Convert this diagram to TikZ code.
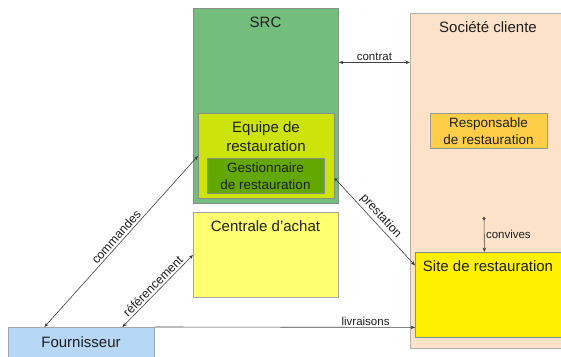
\documentclass[tikz,border=0pt]{standalone}
\usepackage{fontspec}
\setmainfont{Liberation Sans}
\usetikzlibrary{arrows.meta,calc}
\definecolor{srcgreen}{RGB}{115,190,125}
\definecolor{peach}{RGB}{253,226,202}
\definecolor{equipe}{RGB}{204,228,12}
\definecolor{gest}{RGB}{98,168,0}
\definecolor{centrale}{RGB}{255,255,112}
\definecolor{respo}{RGB}{255,206,72}
\definecolor{site}{RGB}{255,240,0}
\definecolor{fourn}{RGB}{182,215,245}
\definecolor{txt}{RGB}{30,30,30}
\tikzset{
  box/.style={draw=#1, line width=0.8pt, anchor=north west, inner sep=0pt},
  big/.style={font=\fontsize{15}{18.5}\selectfont, text=txt, inner sep=0pt, align=center},
  mid/.style={font=\fontsize{13.5}{16.5}\selectfont, text=txt, inner sep=0pt, align=center},
  small/.style={font=\fontsize{11.5}{13}\selectfont, text=txt, inner sep=1.5pt},
  slopelab/.style={font=\fontsize{12.3}{14}\selectfont, text=txt, inner sep=2pt, sloped, above},
  conn/.style={draw=black!75, line width=0.6pt},
  tip/.tip={Stealth[length=4.5pt,width=3.5pt]},
  dot/.tip={Circle[length=3pt]}
}
\begin{document}
\begin{tikzpicture}[x=1pt,y=-1pt]
\useasboundingbox (0,0) rectangle (561,356);
% containers
\node[box=black!45, fill=srcgreen, minimum width=145pt, minimum height=195pt] (src) at (193,8) {};
\node[box=black!30, fill=peach, minimum width=156pt, minimum height=335pt] (soc) at (410,13) {};
\node[big] (srct) at (265.5,22) {SRC};
\node[big] (soct) at (488,27) {Société cliente};
% inner boxes
\node[box=black!45, fill=equipe, minimum width=136pt, minimum height=85pt] (equipe) at (198,113) {};
\node[big] (equipet) at (266,136.5) {Equipe de\\restauration};
\node[box=black!45, fill=gest, minimum width=117pt, minimum height=35pt] (gest) at (207,158) {};
\node[mid] (gestt) at (265.5,176) {Gestionnaire\\de restauration};
\node[box=black!35, fill=centrale, minimum width=145pt, minimum height=85pt] (centrale) at (193,212) {};
\node[big] (centralet) at (265.5,226) {Centrale d'achat};
\node[box=black!40, fill=respo, minimum width=117pt, minimum height=35pt] (respo) at (430,113) {};
\node[mid] (respot) at (488.5,131) {Responsable\\de restauration};
\node[box=black!45, fill=site, minimum width=147pt, minimum height=85pt] (site) at (415,252) {};
\node[big] (sitet) at (488,266) {Site de restauration};
\node[box=black!35, fill=fourn, minimum width=146pt, minimum height=35pt] (four) at (8,327) {};
\node[big] (fourt) at (81,342) {Fournisseur};
% connectors
\draw[conn, tip-tip] ([yshift=43.5pt]src.east) -- node[small, above] (contratl) {contrat} ([yshift=118.5pt]soc.west);
\coordinate (cv) at (484,217);
\draw[conn, dot-tip] (cv) -- node[small, right, pos=0.5] (convl) {convives} ([xshift=-4.5pt]site.north);
\draw[conn, -tip] (four.north east) -- node[small, above, pos=0.81] (livl) {livraisons} ([yshift=-32.5pt]site.west);
\draw[conn, tip-tip] ([xshift=-37pt]four.north) -- node[slopelab] (comml) {commandes} (equipe.west);
\draw[conn, tip-tip] ([xshift=41pt]four.north) -- node[slopelab] (refl) {référencement} (centrale.west);
\draw[conn, dot-tip] ([yshift=-22.5pt]equipe.east) -- node[slopelab] (prestl) {prestation} ([yshift=29.5pt]site.west);
\end{tikzpicture}
\end{document}
